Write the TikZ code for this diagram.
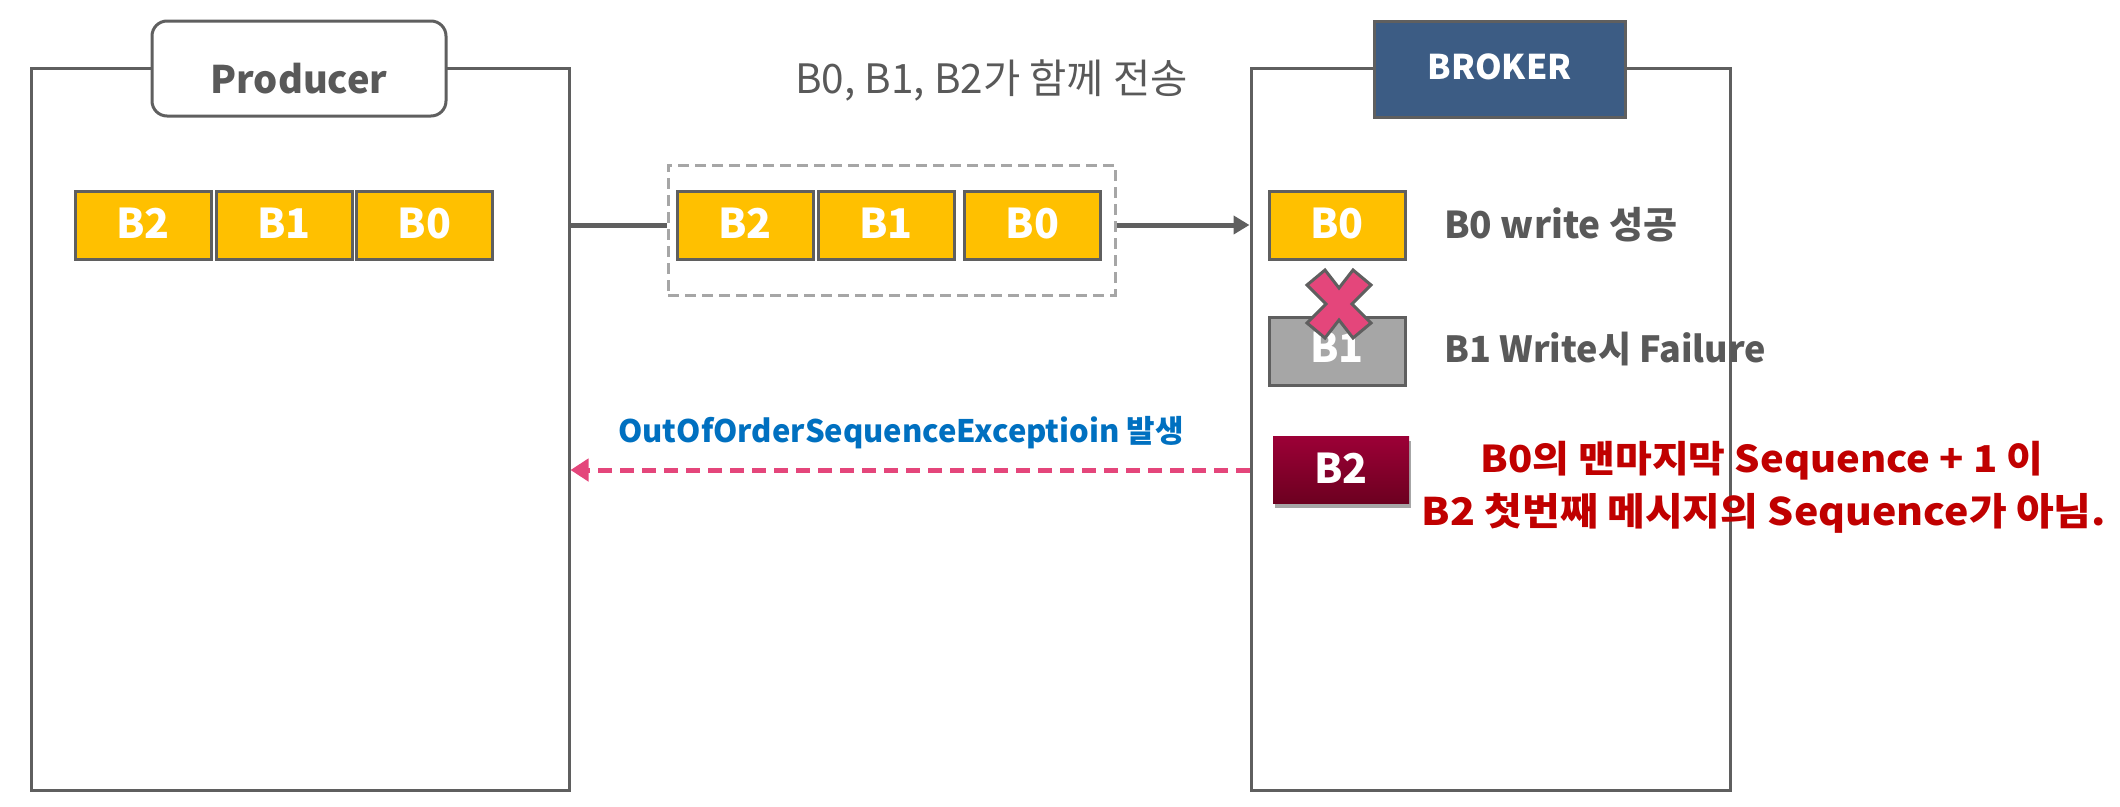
\documentclass[tikz,border=0pt]{standalone}
\usepackage{fontspec}
\setmainfont{Noto Sans CJK KR}
\newfontfamily\widefont[FakeStretch=1.08]{Noto Sans CJK KR}
\usetikzlibrary{arrows.meta,shadows}
\definecolor{lgray}{HTML}{5F5F5F}
\definecolor{dgray}{HTML}{A6A6A6}
\definecolor{byellow}{HTML}{FFC000}
\definecolor{bblue}{HTML}{3C5C84}
\definecolor{tred}{HTML}{C00000}
\definecolor{tblue}{HTML}{0070C0}
\definecolor{pinkx}{HTML}{E4467B}
\definecolor{darkred1}{HTML}{9C0036}
\definecolor{darkred2}{HTML}{6C0020}
\definecolor{textgray}{HTML}{595959}
\begin{document}
\begin{tikzpicture}[x=1pt,y=-1pt,
  frame/.style={draw=lgray,line width=3pt,inner sep=0pt},
  blk/.style={draw=lgray,line width=3pt,fill=byellow,minimum width=136pt,minimum height=68pt,inner sep=0pt,text=white,font=\bfseries\fontsize{41}{41}\selectfont,text height=26pt,text depth=0pt},
  title/.style={draw=lgray,line width=3pt,inner sep=0pt},
  desc/.style={anchor=base west,inner sep=0pt,text=textgray,font=\bfseries\fontsize{37}{37}\selectfont},
  redtxt/.style={anchor=base,inner sep=0pt,text=tred,font=\widefont\bfseries\fontsize{37}{37}\selectfont},
  conn/.style={draw=lgray,line width=5pt}
]
\useasboundingbox (0,0) rectangle (2120,806);
% frames
\node[frame,minimum width=538pt,minimum height=722pt] (prod) at (300,429) {};
\node[frame,minimum width=479pt,minimum height=722pt] (broker) at (1490.5,429) {};
% titles
\node[title,fill=white,rounded corners=15pt,minimum width=294pt,minimum height=95pt] (plabel) at (299,68.5) {};
\node[anchor=base,inner sep=0pt,text=textgray,font=\bfseries\fontsize{38}{38}\selectfont] (ptext) at (299,93) {Producer};
\node[title,fill=bblue,minimum width=251pt,minimum height=96pt] (blabel) at (1499.5,69) {};
\node[anchor=base,inner sep=0pt,text=white,font=\bfseries\fontsize{34}{34}\selectfont] (btext) at (1499.5,79) {BROKER};
% producer blocks
\node[blk] (pb2) at (143,225) {B2};
\node[blk] (pb1) at (284,225) {B1};
\node[blk] (pb0) at (424.5,225) {B0};
% batch
\node[draw=dgray,line width=3pt,dash pattern=on 11pt off 6pt,minimum width=447pt,minimum height=130pt,inner sep=0pt] (batch) at (891.5,230) {};
\node[blk] (sb2) at (745,225) {B2};
\node[blk] (sb1) at (886,225) {B1};
\node[blk] (sb0) at (1032.5,225) {B0};
\node[anchor=base west,inner sep=0pt,text=textgray,font=\fontsize{40.5}{40.5}\selectfont] (sendtxt) at (795,93) {B0, B1, B2가 함께 전송};
% broker blocks
\node[blk] (rb0) at (1337,225) {B0};
\node[blk,fill=dgray,text height=22pt] (rb1) at (1337,351.5) {B1};
\node[blk,draw=none,top color=darkred1,bottom color=darkred2,minimum height=67pt,drop shadow={shadow xshift=2pt,shadow yshift=-4pt,opacity=0.35,fill=black}] (rb2) at (1341,470) {B2};
\node[desc] (d0) at (1444,238) {B0 write 성공};
\node[desc,font=\bfseries\fontsize{36}{36}\selectfont] (d1) at (1444,362) {B1 Write시 Failure};
\node[redtxt] (r1) at (1762,472) {B0의 맨마지막 Sequence + 1 이};
\node[redtxt,font=\widefont\bfseries\fontsize{38}{38}\selectfont] (r2) at (1764,525) {B2 첫번째 메시지의 Sequence가 아님.};
% X mark
\coordinate (xc) at (1339,304);
\draw[draw=lgray,line width=3pt,fill=pinkx,line join=miter] ([shift={(-32,-19)}]xc) -- ([shift={(-14,-34)}]xc) -- ([shift={(0,-16)}]xc) -- ([shift={(14,-34)}]xc) -- ([shift={(32,-19)}]xc) -- ([shift={(13,0)}]xc) -- ([shift={(32,19)}]xc) -- ([shift={(14,34)}]xc) -- ([shift={(0,16)}]xc) -- ([shift={(-14,34)}]xc) -- ([shift={(-32,19)}]xc) -- ([shift={(-13,0)}]xc) -- cycle;
% connectors
\draw[conn] (prod.east |- pb0.center) -- (batch.west |- pb0.center);
\draw[conn,-{Triangle[length=16pt,width=18pt]}] (batch.east |- sb0.center) -- (broker.west |- sb0.center);
\draw[draw=pinkx,line width=5pt,dash pattern=on 14pt off 8pt,-{Triangle[length=18pt,width=22pt]}] (broker.west |- rb2.center) -- (prod.east |- rb2.center);
\node[anchor=base west,inner sep=0pt,text=tblue,font=\bfseries\fontsize{31}{31}\selectfont] (exc) at (618,442) {OutOfOrderSequenceExceptioin 발생};
\end{tikzpicture}
\end{document}
